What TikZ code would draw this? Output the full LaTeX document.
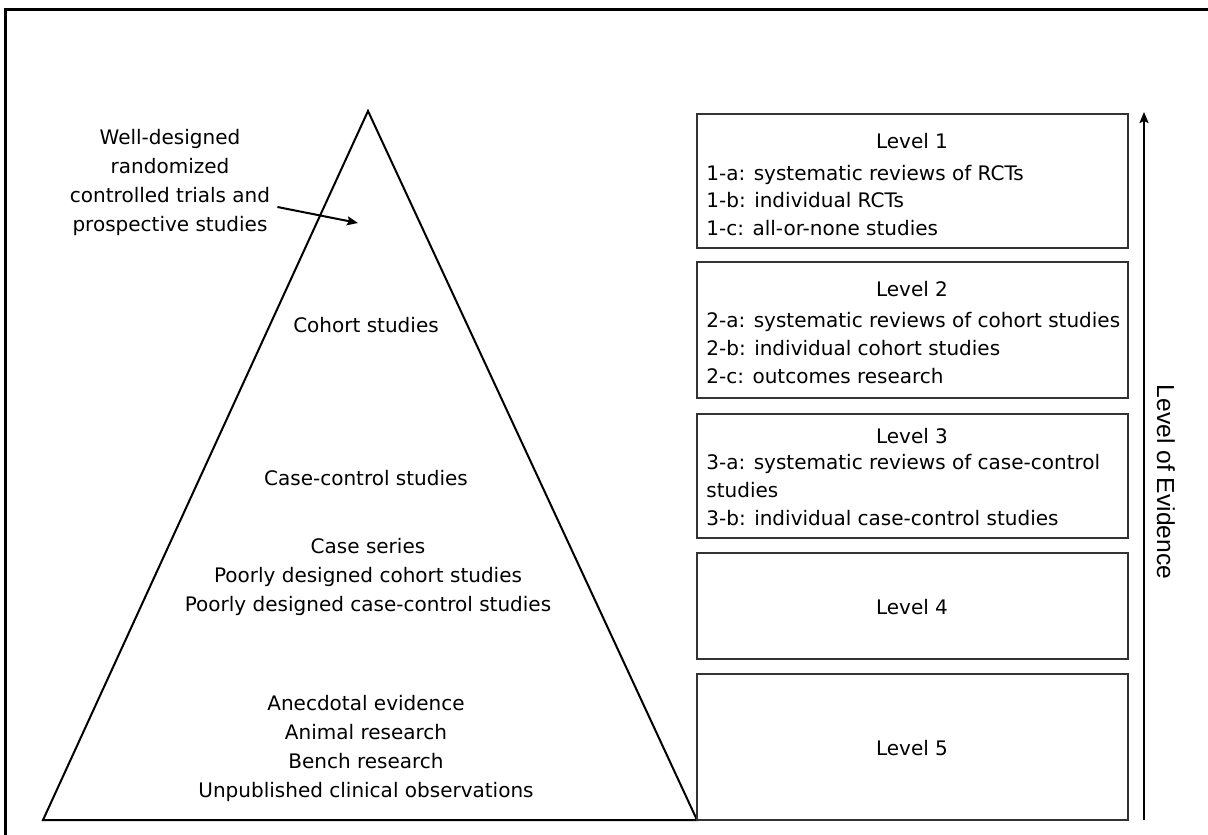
\documentclass[tikz,border=0pt]{standalone}
\usepackage{fontspec}
\setmainfont{DejaVu Sans}
\newfontfamily\arialf{Liberation Sans}
\usetikzlibrary{arrows.meta}
\begin{document}
\begin{tikzpicture}[x=0.5pt,y=-0.5pt,
  tri/.style={line width=1pt, black, line join=miter},
  lvbox/.style={draw=black!80, line width=1pt, minimum width=215.5pt, inner sep=0pt, outer sep=0pt},
  ptext/.style={inner sep=0pt, font=\fontsize{10}{14.5}\selectfont, align=center},
  btitle/.style={inner sep=0pt, font=\fontsize{10}{14}\selectfont},
  blines/.style={inner sep=0pt, font=\fontsize{10}{13.8}\selectfont, align=left, anchor=west},
  arr/.style={line width=1pt, -{Stealth[length=5.5pt,width=4.5pt,inset=1pt]}}
]
\useasboundingbox (0,0) rectangle (1208,834);
\clip (0,0) rectangle (1208,834);
% outer frame
\draw[line width=1.5pt] (5,10) rectangle (1240,870);
% pyramid
\coordinate (apex) at (368,111);
\coordinate (bl) at (43,820);
\coordinate (br) at (697,820);
\draw[tri] (bl) -- (apex) -- (br) -- cycle;
% pyramid labels
\node[ptext] (wd) at (170,182) {Well-designed\\randomized\\controlled trials and\\prospective studies};
\coordinate (wdtip) at (358,223);
\draw[arr] ([xshift=3.5pt,yshift=-12.5pt]wd.east) -- (wdtip);
\node[ptext] (coh) at (366,325) {Cohort studies};
\node[ptext] (cc) at (366,478) {Case-control studies};
\node[ptext] (cs) at (368,577) {Case series\\Poorly designed cohort studies\\Poorly designed case-control studies};
\node[ptext] (an) at (366,748) {Anecdotal evidence\\Animal research\\Bench research\\Unpublished clinical observations};
% level boxes
\node[lvbox, minimum height=67pt] (L1) at (912.5,181) {};
\node[lvbox, minimum height=68pt] (L2) at (912.5,330) {};
\node[lvbox, minimum height=62pt] (L3) at (912.5,476) {};
\node[lvbox, minimum height=53pt] (L4) at (912.5,606) {};
\node[lvbox, minimum height=73pt] (L5) at (912.5,747) {};
% box texts
\node[btitle] (t1) at (912,141) {Level 1};
\node[blines] (d1) at (706,200.5) {1-a: systematic reviews of RCTs\\1-b: individual RCTs\\1-c: all-or-none studies};
\node[btitle] (t2) at (912,289) {Level 2};
\node[blines] (d2) at (706,348) {2-a: systematic reviews of cohort studies\\2-b: individual cohort studies\\2-c: outcomes research};
\node[btitle] (t3) at (912,436) {Level 3};
\node[blines] (d3) at (706,490) {3-a: systematic reviews of case-control\\studies\\3-b: individual case-control studies};
\node[btitle] (t4) at (912,607) {Level 4};
\node[btitle] (t5) at (912,748) {Level 5};
% level of evidence arrow
\coordinate (abot) at (1144,820);
\coordinate (atop) at (1144,112);
\draw[arr] (abot) -- (atop);
\node[rotate=-90, inner sep=0pt, font=\arialf\fontsize{12.3}{14}\selectfont] (loe) at (1166,482) {Level of Evidence};
\end{tikzpicture}
\end{document}
